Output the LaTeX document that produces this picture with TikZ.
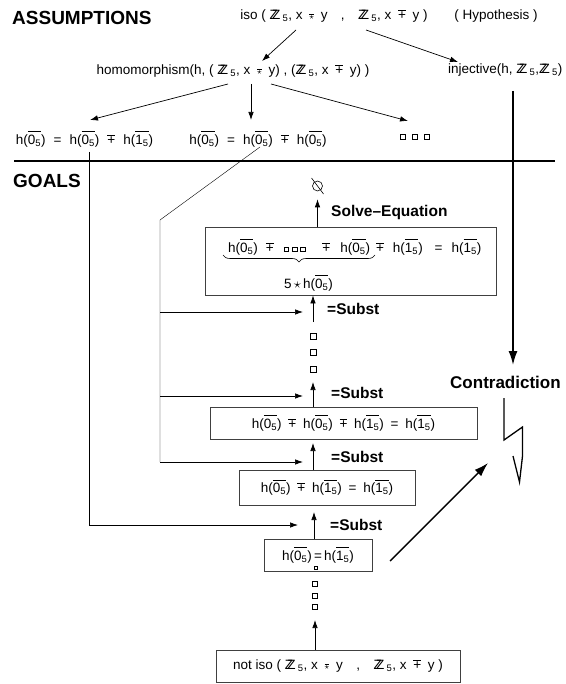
\documentclass[tikz,border=0pt]{standalone}
\usepackage{fontspec}
\setmainfont{Liberation Sans}
\usetikzlibrary{arrows.meta,decorations.pathreplacing}

\newcommand\ZZ{Z\kern-.42em Z\,\textsubscript{5}}
\newcommand\cl[1]{$\overline{\hbox{\rule{0pt}{.84em}#1\textsubscript{5}}}$}
\newcommand\opl{$\overline{\hbox{+}}$}
\newcommand\ost{$\overline{\hbox{$\scriptstyle\star$}}$}
\newcommand\sq{\raisebox{1pt}{{\fboxsep=0pt\fboxrule=.6pt\fbox{\rule{0pt}{4pt}\rule{4pt}{0pt}}}}}
\newcommand\op[1]{\enspace#1\enspace}
\newcommand\wop[1]{\hspace{8pt}#1\hspace{8pt}}

\tikzset{
  txt/.style={inner sep=0pt,font=\fontsize{13.5}{16}\selectfont},
  head/.style={inner sep=0pt,anchor=west,font=\fontsize{19}{22}\selectfont\bfseries},
  lbl/.style={inner sep=0pt,anchor=west,font=\fontsize{15.5}{18}\selectfont\bfseries},
  goal/.style={draw=black!75,line width=.8pt,inner sep=0pt,txt},
  arr/.style={line width=.7pt,-{Latex[length=8pt,width=5.5pt]}},
  bigarr/.style={line width=1.6pt,-{Latex[length=14pt,width=9pt]}},
  rule/.style={line width=1.8pt},
  dot/.style={draw,line width=.6pt,inner sep=0pt,minimum size=6pt},
}

\begin{document}
\begin{tikzpicture}[x=1pt,y=-1pt]
  \useasboundingbox (0,0) rectangle (565,684);

  % assumptions
  \node[head] (assume) at (12,17.5) {ASSUMPTIONS};
  \node[txt] (iso) at (334,16) {iso (\ \ZZ, x\op\ost y\quad,\quad\ZZ, x\op\opl y\ )};
  \node[txt] (hyp) at (496,16) {( Hypothesis )};
  \node[txt] (hom) at (233,71) {homomorphism(h, (\ \ZZ, x\op\ost y)\ , (\ZZ, x\op\opl y) )};
  \node[txt,anchor=west] (inj) at (448,70) {injective(h, \ZZ ,\ZZ)};
  \node[txt] (eqa) at (84.5,139) {h(\cl0)\wop=h(\cl0)\wop\opl h(\cl1)};
  \node[txt] (eqb) at (258,139) {h(\cl0)\wop=h(\cl0)\wop\opl h(\cl0)};
  \foreach \x [count=\i] in {403,415,427}
    \node[dot,minimum size=5pt] (more\i) at (\x,137) {};

  \coordinate (isoL) at (296,30);  \coordinate (homT) at (262,61);
  \coordinate (isoR) at (366,30);  \coordinate (injT) at (458,62);
  \draw[arr] (isoL) -- (homT);
  \draw[arr] (isoR) -- (injT);
  \coordinate (homA) at (228,84);  \coordinate (eqaT) at (90,120);
  \coordinate (homB) at (251,84);  \coordinate (eqbT) at (251,120);
  \coordinate (homC) at (271,84);  \coordinate (moreT) at (408,121);
  \draw[arr] (homA) -- (eqaT);
  \draw[arr] (homB) -- (eqbT);
  \draw[arr] (homC) -- (moreT);

  \draw[rule] (14,161) -- (555,161);

  % goals
  \node[head] (goals) at (13,181) {GOALS};
  \node[draw,circle,line width=.6pt,inner sep=0pt,minimum size=10pt] (empty) at (317.5,186) {};
  \draw[line width=.6pt] ([shift={(-6,-8)}]empty.center) -- ([shift={(6,8)}]empty.center);
  \node[goal,minimum width=291pt,minimum height=68pt] (box1) at (350.5,261) {};
  \node[txt,anchor=west] (box1a) at (228,247)
    {h(\cl0)\hspace{8pt}\opl\hspace{10pt}\sq\hspace{3pt}\sq\hspace{3pt}\sq\hspace{17pt}\opl\hspace{10pt}h(\cl0)\hspace{6pt}\opl\hspace{9pt}h(\cl1)\hspace{12pt}=\hspace{9pt}h(\cl1)};
  \draw[decorate,decoration={brace,mirror,amplitude=7pt},line width=.6pt] (223,255) -- (375,255);
  \node[txt] (box1b) at (308.5,283) {5\,$\star$\,h(\cl0)};
  \node[goal,minimum width=267pt,minimum height=32pt] (box2) at (343.5,423)
    {h(\cl0)\op\opl h(\cl0)\enspace\opl\enspace h(\cl1)\op=h(\cl1)};
  \node[goal,minimum width=176pt,minimum height=35pt] (box3) at (327,487.5)
    {h(\cl0)\enspace\opl\enspace h(\cl1)\op=h(\cl1)};
  \node[goal,minimum width=108pt,minimum height=32pt] (box4) at (318,555)
    {h(\cl0)\,=\,h(\cl1)};
  \node[dot,minimum size=3pt,line width=.5pt] (tiny) at (316,567.5) {};
  \node[goal,minimum width=244pt,minimum height=32pt] (box5) at (338,666)
    {not iso (\ \ZZ, x\op\ost y\quad,\quad\ZZ, x\op\opl y\ )};
  \foreach \y [count=\i] in {336,352,369}
    \node[dot] (up\i) at (313,\y) {};
  \foreach \y [count=\i] in {584,596,607}
    \node[dot,minimum size=4.5pt] (dn\i) at (315,\y) {};

  % rule steps
  \draw[arr] (box1.north -| empty) -- ([yshift=-8pt]empty.south);
  \node[lbl] (solve) at (331,212.5) {Solve{\textendash}Equation};
  \coordinate (s1) at (313,322);
  \draw[arr] (s1) -- (box1.south -| s1);
  \node[lbl] (sub1) at (327,309) {=Subst};
  \coordinate (s2) at (313,382);
  \draw[arr] (box2.north -| s2) -- (s2);
  \node[lbl] (sub2) at (331,393) {=Subst};
  \coordinate (s3) at (313,443);
  \draw[arr] (box3.north -| s3) -- (s3);
  \node[lbl] (sub3) at (331,457) {=Subst};
  \coordinate (s4) at (314,512);
  \draw[arr] (box4.north -| s4) -- (s4);
  \node[lbl] (sub4) at (330,525) {=Subst};
  \coordinate (s5) at (315,620);
  \draw[arr] (box5.north -| s5) -- (s5);

  % substitutions from the assumptions
  \coordinate (la) at (89,152);
  \coordinate (lb) at (260,147);
  \coordinate (bend) at (160,220);
  \coordinate (t1) at (303,312);
  \coordinate (t2) at (303,396);
  \coordinate (t3) at (303,462);
  \coordinate (t4) at (298,525);
  \draw[arr] (la) |- (t4);
  \draw (lb) -- (bend) -- (bend |- t3);
  \draw[arr] (bend |- t1) -- (t1);
  \draw[arr] (bend |- t2) -- (t2);
  \draw[arr] (bend |- t3) -- (t3);

  % contradiction
  \coordinate (injB) at (513,91);
  \coordinate (contraT) at (513,365);
  \draw[bigarr] (injB) -- (contraT);
  \node[lbl,font=\fontsize{17}{20}\selectfont\bfseries] (contra) at (450,382) {Contradiction};
  \coordinate (box4R) at (390,561);
  \coordinate (boltT) at (488,463);
  \draw[bigarr,line width=1.4pt] (box4R) -- (boltT);
  \draw[line width=1.3pt] (504,398) -- (504,440) -- (522.5,427) -- (522.5,456)
    -- (519.5,482) -- (513,456);
\end{tikzpicture}
\end{document}
